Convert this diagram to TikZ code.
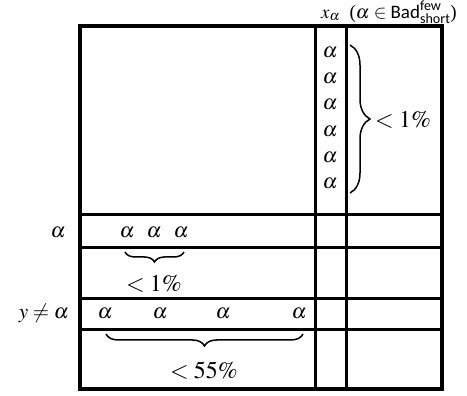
\documentclass[tikz,border=0pt]{standalone}
\usepackage{amsmath}
\usepackage{mathptmx}
\usepackage{fontspec}
\setmainfont{Liberation Serif}
\newfontfamily\badfont{Carlito}
\usetikzlibrary{decorations.pathreplacing}

\begin{document}
\begin{tikzpicture}[x=1pt,y=-1pt,
  sym/.style={inner sep=0pt,font=\fontsize{21}{25}\selectfont},
  big/.style={inner sep=0pt,font=\fontsize{24}{28}\selectfont},
  cut/.style={line width=3pt},
  brc/.style={decorate,decoration={brace,amplitude=#1},line width=1.5pt}]
\useasboundingbox (0,0) rectangle (467,396);
% grid of the matrix
\draw[line width=4pt] (80,26) rectangle (442,389);
\draw[cut] (315,26)--(315,389);
\draw[cut] (346,26)--(346,389);
\draw[cut] (80,215)--(442,215);
\draw[cut] (80,248)--(442,248);
\draw[cut] (80,299)--(442,299);
\draw[cut] (80,330)--(442,330);
% column label
\node[inner sep=0pt,font=\fontsize{19}{22}\selectfont] (xlab) at (389,12)
  {$x_\alpha$\ \ ($\alpha\in\text{\badfont Bad}^{\text{\badfont few}}_{\text{\badfont short}}$)};
% column entries
\node[sym] (c1) at (330,52) {$\alpha$};
\node[sym] (c2) at (330,78) {$\alpha$};
\node[sym] (c3) at (330,104) {$\alpha$};
\node[sym] (c4) at (330,131) {$\alpha$};
\node[sym] (c5) at (330,157) {$\alpha$};
\node[sym] (c6) at (330,183) {$\alpha$};
\coordinate (ct) at (350,45);
\coordinate (cb) at (350,193);
\draw[brc=20pt] (ct)--(cb);
\node[big,anchor=west] (cpct) at (375,120) {$<1\%$};
% row alpha
\node[sym] (rlab) at (58,232) {$\alpha$};
\node[sym] (r1) at (127,232) {$\alpha$};
\node[sym] (r2) at (154,232) {$\alpha$};
\node[sym] (r3) at (181,232) {$\alpha$};
\coordinate (rl) at (125,252);
\coordinate (rr) at (184,252);
\draw[brc=10pt] (rr)--(rl);
\node[big] (rpct) at (154,284) {$<1\%$};
% row y != alpha
\node[sym,anchor=east] (ylab) at (69,313) {$y\neq\alpha$};
\node[sym] (y1) at (105,313) {$\alpha$};
\node[sym] (y2) at (160,313) {$\alpha$};
\node[sym] (y3) at (223,313) {$\alpha$};
\node[sym] (y4) at (299,313) {$\alpha$};
\coordinate (yl) at (106,334);
\coordinate (yr) at (303,334);
\draw[brc=12pt] (yr)--(yl);
\node[big] (ypct) at (204,371) {$<55\%$};
\end{tikzpicture}
\end{document}
